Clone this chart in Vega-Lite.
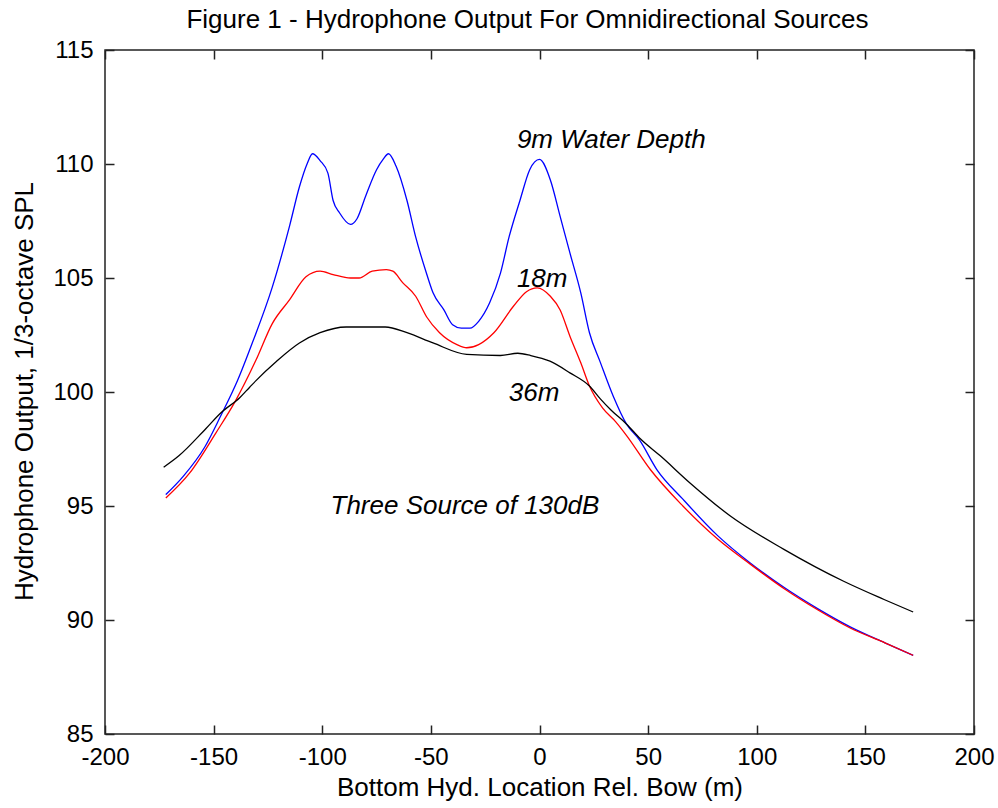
{
  "$schema": "https://vega.github.io/schema/vega-lite/v6.json",
  "width": 869,
  "height": 684,
  "autosize": {"type": "none"},
  "padding": {"left": 105, "top": 50, "right": 24, "bottom": 74},
  "background": "white",
  "config": {
    "view": {"stroke": "#222222", "strokeWidth": 1.5},
    "font": "Liberation Sans",
    "axis": {
      "grid": false,
      "domain": false,
      "tickColor": "#222222",
      "tickWidth": 1.5,
      "tickSize": -9,
      "labelColor": "black",
      "labelFont": "Liberation Sans",
      "labelFontSize": 24,
      "titleFont": "Liberation Sans",
      "titleFontWeight": "normal",
      "titleFontSize": 26,
      "titleColor": "black"
    }
  },
  "title": {
    "text": "Figure 1 - Hydrophone Output For Omnidirectional Sources",
    "font": "Liberation Sans",
    "fontSize": 26,
    "fontWeight": "normal",
    "color": "black",
    "offset": 5,
    "dx": -12
  },
  "datasets": {
    "curves": [
      {"series": "9m", "x": -172, "y": 95.5},
      {"series": "9m", "x": -164, "y": 96.3},
      {"series": "9m", "x": -154, "y": 97.6},
      {"series": "9m", "x": -147, "y": 98.9},
      {"series": "9m", "x": -139, "y": 100.5},
      {"series": "9m", "x": -132, "y": 102.2},
      {"series": "9m", "x": -123, "y": 104.6},
      {"series": "9m", "x": -115, "y": 107.3},
      {"series": "9m", "x": -110.5, "y": 109.0},
      {"series": "9m", "x": -107, "y": 110.0},
      {"series": "9m", "x": -104.5, "y": 110.45},
      {"series": "9m", "x": -101, "y": 110.15},
      {"series": "9m", "x": -97.4, "y": 109.6},
      {"series": "9m", "x": -95, "y": 108.4},
      {"series": "9m", "x": -92, "y": 107.85},
      {"series": "9m", "x": -87, "y": 107.35},
      {"series": "9m", "x": -84, "y": 107.6},
      {"series": "9m", "x": -80, "y": 108.6},
      {"series": "9m", "x": -75, "y": 109.75},
      {"series": "9m", "x": -72, "y": 110.2},
      {"series": "9m", "x": -69.5, "y": 110.45},
      {"series": "9m", "x": -66, "y": 109.9},
      {"series": "9m", "x": -61, "y": 108.4},
      {"series": "9m", "x": -57, "y": 106.8},
      {"series": "9m", "x": -52, "y": 105.2},
      {"series": "9m", "x": -49, "y": 104.35},
      {"series": "9m", "x": -44, "y": 103.6},
      {"series": "9m", "x": -40, "y": 102.95},
      {"series": "9m", "x": -36, "y": 102.8},
      {"series": "9m", "x": -32, "y": 102.8},
      {"series": "9m", "x": -28, "y": 103.1},
      {"series": "9m", "x": -23, "y": 103.9},
      {"series": "9m", "x": -18, "y": 105.2},
      {"series": "9m", "x": -14, "y": 106.8},
      {"series": "9m", "x": -9, "y": 108.4},
      {"series": "9m", "x": -4.5, "y": 109.75},
      {"series": "9m", "x": 0, "y": 110.2},
      {"series": "9m", "x": 5, "y": 109.3},
      {"series": "9m", "x": 9.5, "y": 107.7},
      {"series": "9m", "x": 14, "y": 106.1},
      {"series": "9m", "x": 19, "y": 104.35},
      {"series": "9m", "x": 23, "y": 102.6},
      {"series": "9m", "x": 28, "y": 101.3},
      {"series": "9m", "x": 34, "y": 99.8},
      {"series": "9m", "x": 40, "y": 98.6},
      {"series": "9m", "x": 46, "y": 97.9},
      {"series": "9m", "x": 54, "y": 96.6},
      {"series": "9m", "x": 66, "y": 95.3},
      {"series": "9m", "x": 82, "y": 93.7},
      {"series": "9m", "x": 97, "y": 92.5},
      {"series": "9m", "x": 113, "y": 91.4},
      {"series": "9m", "x": 128, "y": 90.5},
      {"series": "9m", "x": 143, "y": 89.7},
      {"series": "9m", "x": 159, "y": 89.0},
      {"series": "9m", "x": 172, "y": 88.45},
      {"series": "18m", "x": -172, "y": 95.35},
      {"series": "18m", "x": -161, "y": 96.45},
      {"series": "18m", "x": -149, "y": 98.2},
      {"series": "18m", "x": -140, "y": 99.6},
      {"series": "18m", "x": -130.5, "y": 101.4},
      {"series": "18m", "x": -123, "y": 103.0},
      {"series": "18m", "x": -115, "y": 104.05},
      {"series": "18m", "x": -107.5, "y": 105.05},
      {"series": "18m", "x": -101, "y": 105.3},
      {"series": "18m", "x": -95, "y": 105.15},
      {"series": "18m", "x": -87, "y": 105.0},
      {"series": "18m", "x": -83, "y": 105.0},
      {"series": "18m", "x": -77, "y": 105.3},
      {"series": "18m", "x": -70.5, "y": 105.37},
      {"series": "18m", "x": -67.5, "y": 105.3},
      {"series": "18m", "x": -63, "y": 104.8},
      {"series": "18m", "x": -57, "y": 104.2},
      {"series": "18m", "x": -52, "y": 103.3},
      {"series": "18m", "x": -46, "y": 102.6},
      {"series": "18m", "x": -38, "y": 102.08},
      {"series": "18m", "x": -33.5, "y": 101.94},
      {"series": "18m", "x": -28, "y": 102.08},
      {"series": "18m", "x": -21, "y": 102.6},
      {"series": "18m", "x": -12, "y": 103.76},
      {"series": "18m", "x": -6, "y": 104.4},
      {"series": "18m", "x": -1, "y": 104.57},
      {"series": "18m", "x": 5, "y": 104.2},
      {"series": "18m", "x": 9.5, "y": 103.6},
      {"series": "18m", "x": 14, "y": 102.45},
      {"series": "18m", "x": 19, "y": 101.28},
      {"series": "18m", "x": 23, "y": 100.26},
      {"series": "18m", "x": 29, "y": 99.3},
      {"series": "18m", "x": 35, "y": 98.7},
      {"series": "18m", "x": 40, "y": 98.1},
      {"series": "18m", "x": 51, "y": 96.6},
      {"series": "18m", "x": 66, "y": 95.0},
      {"series": "18m", "x": 82, "y": 93.55},
      {"series": "18m", "x": 97, "y": 92.45},
      {"series": "18m", "x": 113, "y": 91.35},
      {"series": "18m", "x": 128, "y": 90.45},
      {"series": "18m", "x": 143, "y": 89.65},
      {"series": "18m", "x": 159, "y": 89.0},
      {"series": "18m", "x": 172, "y": 88.45},
      {"series": "36m", "x": -173, "y": 96.7},
      {"series": "36m", "x": -166, "y": 97.2},
      {"series": "36m", "x": -153.5, "y": 98.4},
      {"series": "36m", "x": -146.5, "y": 99.1},
      {"series": "36m", "x": -138, "y": 99.75},
      {"series": "36m", "x": -133.5, "y": 100.2},
      {"series": "36m", "x": -130.5, "y": 100.5},
      {"series": "36m", "x": -121, "y": 101.35},
      {"series": "36m", "x": -110.5, "y": 102.15},
      {"series": "36m", "x": -101, "y": 102.6},
      {"series": "36m", "x": -89, "y": 102.85},
      {"series": "36m", "x": -71, "y": 102.85},
      {"series": "36m", "x": -61, "y": 102.6},
      {"series": "36m", "x": -49, "y": 102.15},
      {"series": "36m", "x": -33.5, "y": 101.65},
      {"series": "36m", "x": -18, "y": 101.6},
      {"series": "36m", "x": -10, "y": 101.7},
      {"series": "36m", "x": -4, "y": 101.6},
      {"series": "36m", "x": 4.8, "y": 101.35},
      {"series": "36m", "x": 14, "y": 100.84},
      {"series": "36m", "x": 23, "y": 100.26},
      {"series": "36m", "x": 28, "y": 99.7},
      {"series": "36m", "x": 33, "y": 99.2},
      {"series": "36m", "x": 40, "y": 98.6},
      {"series": "36m", "x": 46.4, "y": 97.95},
      {"series": "36m", "x": 55.6, "y": 97.2},
      {"series": "36m", "x": 69.4, "y": 96.0},
      {"series": "36m", "x": 88, "y": 94.55},
      {"series": "36m", "x": 112.5, "y": 93.1},
      {"series": "36m", "x": 140, "y": 91.7},
      {"series": "36m", "x": 158.6, "y": 90.9},
      {"series": "36m", "x": 172, "y": 90.35}
    ],
    "labels": [
      {"x": -10.4, "y": 111.05, "label": "9m Water Depth"},
      {"x": -10.4, "y": 104.97, "label": "18m"},
      {"x": -14.1, "y": 99.94, "label": "36m"},
      {"x": -96.2, "y": 94.99, "label": "Three Source of 130dB"}
    ]
  },
  "layer": [
    {
      "data": {"name": "curves"},
      "mark": {"type": "line", "strokeWidth": 1.3, "interpolate": "monotone"},
      "encoding": {
        "x": {
          "field": "x", "type": "quantitative",
          "scale": {"domain": [-200, 200], "nice": false, "zero": false},
          "axis": {"orient": "bottom", "values": [-200, -150, -100, -50, 0, 50, 100, 150, 200], "labelExpr": "datum.value + ''", "title": "Bottom Hyd. Location Rel. Bow (m)", "labelPadding": 20, "titleBaseline": "alphabetic", "titleY": 61, "labelFlush": false}
        },
        "y": {
          "field": "y", "type": "quantitative",
          "scale": {"domain": [85, 115], "nice": false, "zero": false},
          "axis": {"orient": "left", "values": [85, 90, 95, 100, 105, 110, 115], "labelExpr": "datum.value + ''", "title": "Hydrophone Output, 1/3-octave SPL", "labelPadding": 21, "titleBaseline": "alphabetic", "titleX": -73, "titleY": 341, "labelFlush": false}
        },
        "color": {
          "field": "series", "type": "nominal",
          "scale": {"domain": ["9m", "18m", "36m"], "range": ["#0000ff", "#ff0000", "#000000"]},
          "legend": null
        },
        "detail": {"field": "series"}
      }
    },
    {
      "data": {"name": "labels"},
      "mark": {"type": "text", "align": "left", "baseline": "middle", "font": "Liberation Sans", "fontStyle": "italic", "fontSize": 26, "color": "black"},
      "encoding": {
        "x": {
          "field": "x", "type": "quantitative",
          "axis": {"orient": "top", "values": [-200, -150, -100, -50, 0, 50, 100, 150, 200], "labels": false, "title": null}
        },
        "y": {
          "field": "y", "type": "quantitative",
          "axis": {"orient": "right", "values": [85, 90, 95, 100, 105, 110, 115], "labels": false, "title": null}
        },
        "text": {"field": "label"}
      }
    }
  ],
  "resolve": {"axis": {"x": "independent", "y": "independent"}}
}
